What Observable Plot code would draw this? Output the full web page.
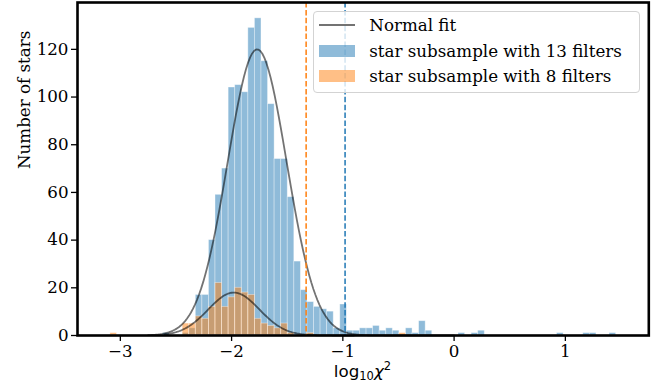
<!DOCTYPE html>
<html>
<head>
<meta charset="utf-8">
<script src="https://cdn.jsdelivr.net/npm/d3@7"></script>
<script src="https://cdn.jsdelivr.net/npm/@observablehq/plot@0.6"></script>
<style>
  body { margin: 0; background: #fff; }
  #wrap { position: relative; width: 665px; height: 390px; overflow: hidden; background: #fff; }
  #legend { position: absolute; left: 312.5px; top: 10.5px; width: 325px; height: 80px;
    border: 1px solid #d3d3d3; border-radius: 4px; background: rgba(255,255,255,0.8);
    font-family: "DejaVu Serif", serif; font-size: 16.7px; color: #000; }
  .row { position: absolute; left: 0; height: 20px; width: 100%; }
  .row .h { position: absolute; left: 5.5px; width: 36px; }
  .row .t { position: absolute; left: 55.8px; top: 0; line-height: 20px; white-space: nowrap; }
  #xlabel { position: absolute; left: 362.5px; top: 362px; transform: translateX(-50%);
    font-family: "DejaVu Sans", sans-serif; font-size: 16.7px; white-space: nowrap; line-height: 18px; }
  #xlabel sub { font-size: 11.5px; vertical-align: -3px; line-height: 0; }
  #xlabel sup { font-size: 11.5px; vertical-align: 7px; line-height: 0; }
</style>
</head>
<body>
<div id="wrap"></div>
<script>
// ---- data ----
const binLo = -3.089;        // left edge of first bin
const binWidth = 0.05903;    // width of each bin
// counts per bin, subsample with 13 filters (77 bins)
const counts13 = [
  0,0,0,0,0,0,0,0,1,0, 0,1,3,17,17,40,59,70,104,105,
  102,129,133,115,97,74,74,58,31,19, 14,12,11,10,3,13,2,2,3,3,
  4,2,3,2,0,3,1,6,2,0, 0,0,0,1,0,1,2,0,0,0,
  0,0,0,0,0,0,0,0,1,0, 0,0,1,1,0,0,1
];
// counts per bin, subsample with 8 filters
const counts8 = [
  1,0,0,0,0,0,0,0,0,0, 0,5,5,8,7,12,22,12,16,20,
  18,17,7,5,4,3,5,1,0,0, 1,0,0,0,0,0,0,0,0,0,
  0,0,0,0,1,0,0,0,0,0, 0,0,0,0,0,0,0,0,0,0,
  0,0,0,0,0,0,0,0,0,0, 0,0,0,0,0,0,0
];
// normal fit parameters
const fit13 = {mu: -1.77, sigma: 0.265, peak: 120, from: -2.75, to: 0.0};
const fit8  = {mu: -1.98, sigma: 0.23,  peak: 18,  from: -2.6,  to: -0.9};
// threshold lines
const thresholds = [-1.33, -0.98];
const thresholdColors = ["#ff7f0e", "#1f77b4"];
const xTicks = [-3, -2, -1, 0, 1];
const yTicks = [0, 20, 40, 60, 80, 100, 120];
const legendLabels = ["Normal fit", "star subsample with 13 filters", "star subsample with 8 filters"];
const yLabel = "Number of stars";

// ---- build tables ----
const bins = (counts) => counts.map((c, i) => ({x1: binLo + i * binWidth, x2: binLo + (i + 1) * binWidth, y: c})).filter(d => d.y > 0);
const curve = (f) => {
  const n = 150, pts = [];
  for (let i = 0; i <= n; i++) {
    const x = f.from + (f.to - f.from) * i / n;
    pts.push({x, y: f.peak * Math.exp(-((x - f.mu) ** 2) / (2 * f.sigma ** 2))});
  }
  return pts;
};
const thr = thresholds.map((x, i) => ({x, c: thresholdColors[i]}));
const fmt = d => d < 0 ? "\u2212" + Math.abs(d) : String(d);

const chart = Plot.plot({
  width: 665, height: 390,
  marginLeft: 77, marginRight: 16.7, marginTop: 2, marginBottom: 55,
  style: {fontFamily: "'DejaVu Serif', serif", fontSize: "16.7px", color: "#000", background: "#fff"},
  x: {domain: [-3.385, 1.75]},
  y: {domain: [0, 139.65]},
  marks: [
    Plot.rectY(bins(counts13), {x1: "x1", x2: "x2", y: "y", fill: "#1f77b4", fillOpacity: 0.5, stroke: "#fff", strokeOpacity: 0.45, strokeWidth: 0.8}),
    Plot.rectY(bins(counts8), {x1: "x1", x2: "x2", y: "y", fill: "#ff7f0e", fillOpacity: 0.5, stroke: "#fff", strokeOpacity: 0.45, strokeWidth: 0.8}),
    Plot.line(curve(fit13), {x: "x", y: "y", stroke: "#000", strokeOpacity: 0.55, strokeWidth: 1.8}),
    Plot.line(curve(fit8), {x: "x", y: "y", stroke: "#000", strokeOpacity: 0.55, strokeWidth: 1.8}),
    Plot.ruleX(thr, {x: "x", stroke: "c", strokeWidth: 1.5, strokeDasharray: "5.5,2.4"}),
    Plot.axisX({ticks: xTicks, tickFormat: fmt, tickSize: 6, tickPadding: 4, strokeWidth: 1.3, label: null}),
    Plot.axisY({ticks: yTicks, tickFormat: fmt, tickSize: 6, tickPadding: 3, strokeWidth: 1.3, label: null}),
    Plot.text([yLabel], {text: d => d, frameAnchor: "left", dx: -53, rotate: -90, fontSize: 16.7}),
    Plot.frame({stroke: "#000", strokeWidth: 2.6})
  ]
});
const wrap = document.getElementById("wrap");
wrap.appendChild(chart);

// legend (HTML overlay, semi-transparent like the original)
const lg = document.createElement("div");
lg.id = "legend";
const rowTops = [3.5, 29.5, 54.5];
const handles = [
  {type: "line", color: "rgba(0,0,0,0.55)"},
  {type: "patch", color: "rgba(31,119,180,0.5)"},
  {type: "patch", color: "rgba(255,127,14,0.5)"}
];
legendLabels.forEach((lab, i) => {
  const r = document.createElement("div");
  r.className = "row"; r.style.top = rowTops[i] + "px";
  const h = document.createElement("div"); h.className = "h";
  if (handles[i].type === "line") { h.style.top = "9px"; h.style.height = "1.8px"; }
  else { h.style.top = "4px"; h.style.height = "12px"; }
  h.style.background = handles[i].color;
  const t = document.createElement("div"); t.className = "t"; t.textContent = lab;
  r.appendChild(h); r.appendChild(t); lg.appendChild(r);
});
wrap.appendChild(lg);

const xl = document.createElement("div");
xl.id = "xlabel";
xl.innerHTML = "log<sub>10</sub><i>\u03c7</i><sup>2</sup>";
wrap.appendChild(xl);
</script>
</body>
</html>
